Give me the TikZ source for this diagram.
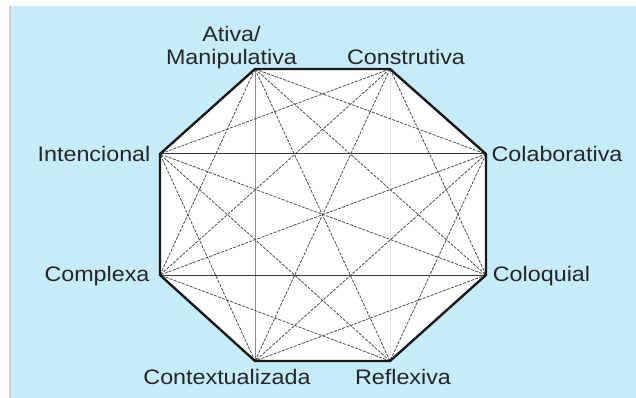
\documentclass[tikz,border=0pt]{standalone}
\usepackage{fontspec}
\setmainfont[FakeStretch=1.11]{Liberation Sans}
\definecolor{bg}{RGB}{198,236,250}
\definecolor{txt}{RGB}{38,38,38}
\definecolor{rimc}{RGB}{25,25,25}
\definecolor{dashc}{RGB}{75,75,75}
\definecolor{solc}{RGB}{55,55,55}
\definecolor{edgec}{RGB}{215,200,205}
\begin{document}
\begin{tikzpicture}[x=1pt,y=-1pt,
  lbl/.style={font=\fontsize{21}{23.5}\selectfont, text=txt, inner sep=0pt, anchor=base},
  rim/.style={line width=2.4pt, draw=rimc, line join=miter},
  dia/.style={draw=dashc, line width=0.8pt, dash pattern=on 3pt off 1.3pt},
  sol/.style={draw=solc, line width=1pt},
  faint/.style={draw=black!12, line width=1pt}]
\useasboundingbox (0,0) rectangle (636,398);
\fill[bg] (9,6) rectangle (636,398);
\draw[edgec, line width=1.5pt] (9.75,6) -- (9.75,398);
% vertices
\coordinate (A) at (255,69);
\coordinate (B) at (390,69);
\coordinate (C) at (486,154);
\coordinate (D) at (486,275);
\coordinate (E) at (390,361);
\coordinate (F) at (255,361);
\coordinate (G) at (160,275);
\coordinate (H) at (160,154);
\fill[white] (A) -- (B) -- (C) -- (D) -- (E) -- (F) -- (G) -- (H) -- cycle;
% solid diagonals
\draw[faint] (B) -- (E);
\draw[sol, draw=black!45] (A) -- (F);
\draw[sol] (H) -- (C);
\draw[sol] (G) -- (D);
% dashed diagonals
\draw[dia] (A) -- (C);
\draw[dia] (A) -- (D);
\draw[dia] (A) -- (E);
\draw[dia] (A) -- (G);
\draw[dia] (B) -- (D);
\draw[dia] (B) -- (F);
\draw[dia] (B) -- (G);
\draw[dia] (B) -- (H);
\draw[dia] (C) -- (E);
\draw[dia] (C) -- (F);
\draw[dia] (C) -- (G);
\draw[dia] (D) -- (F);
\draw[dia] (D) -- (H);
\draw[dia] (E) -- (G);
\draw[dia] (E) -- (H);
\draw[dia] (F) -- (H);
% rim
\draw[rim] (A) -- (B) -- (C) -- (D) -- (E) -- (F) -- (G) -- (H) -- cycle;
% labels
\node[lbl, align=center] (lA) at (231.5,65) {Ativa/\\Manipulativa};
\node[lbl] (lB) at (406,65) {Construtiva};
\node[lbl] (lC) at (557,161.5) {Colaborativa};
\node[lbl] (lD) at (541.5,281) {Coloquial};
\node[lbl] (lE) at (403,384) {Reflexiva};
\node[lbl] (lF) at (227,384) {Contextualizada};
\node[lbl] (lG) at (97,281) {Complexa};
\node[lbl] (lH) at (94,161.5) {Intencional};
\end{tikzpicture}
\end{document}
